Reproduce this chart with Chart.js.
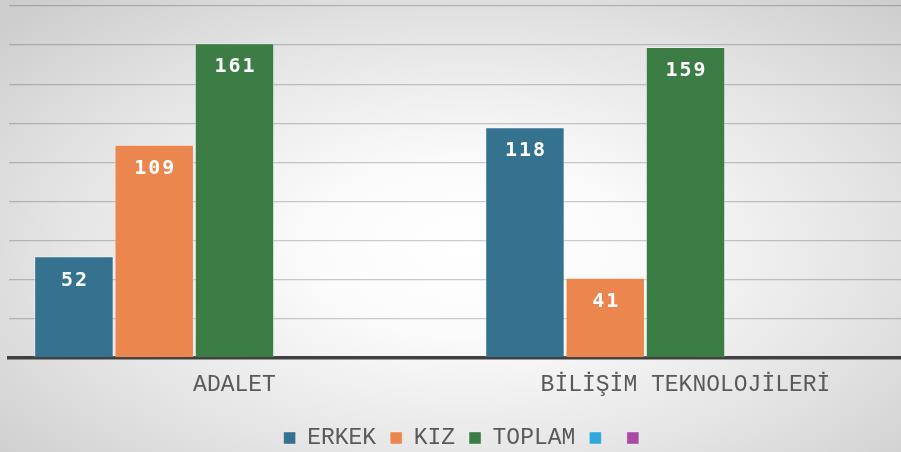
<!DOCTYPE html>
<html>
<head>
    <meta charset="UTF-8">
    <title>Bölüm Öğrenci Sayıları</title>
    <script src="https://cdn.jsdelivr.net/npm/chart.js@4.4.1/dist/chart.umd.min.js"></script>
    <style>
        html, body { margin: 0; padding: 0; overflow: hidden; }
        body {
            width: 901px; height: 452px;
            background: radial-gradient(ellipse 70% 75% at 52% 55%, #ffffff 0%, #fbfbfb 25%, #e4e4e4 65%, #cdcdcd 100%);
        }
        canvas { display: block; }
    </style>
</head>
<body>
<canvas id="bolumChart" width="912" height="452"></canvas>

<script>
    // Bölümler ve seriler
    var bolumler = ['ADALET', 'BİLİŞİM TEKNOLOJİLERİ'];
    var erkek = [52, 118];
    var kiz = [109, 41];
    var toplam = [161, 159];
    var seri4 = [null, null];
    var seri5 = [null, null];
    var yTicks = [0, 20, 40, 60, 80, 100, 120, 140, 160, 180];

    var monoFont = '"Courier New", "Liberation Mono", monospace';

    // Çubukların içine değer yazan eklenti
    var degerEtiketleri = {
        id: 'degerEtiketleri',
        afterDraw: function(chart) {
            var ctx = chart.ctx;
            ctx.save();
            ctx.fillStyle = '#ffffff';
            ctx.font = 'bold 20px "DejaVu Sans Mono", monospace';
            ctx.textAlign = 'center';
            ctx.textBaseline = 'middle';
            ctx.letterSpacing = '2px';
            chart.data.datasets.forEach(function(ds, i) {
                var meta = chart.getDatasetMeta(i);
                meta.data.forEach(function(bar, j) {
                    var v = ds.data[j];
                    if (v === null || v === undefined) return;
                    ctx.fillText(String(v), bar.x + 1, bar.y + 24);
                });
            });
            ctx.restore();
        }
    };

    // Lejantı biraz sağa kaydır (son öğeden sonraki boşluğu dengeler)
    var lejantKaydir = {
        id: 'lejantKaydir',
        afterLayout: function(chart) {
            if (!chart.legend) return;
            chart.legend.left += 7;
            chart.legend.right += 7;
        }
    };

    function seri(label, data, renk) {
        return {
            label: label,
            data: data,
            backgroundColor: renk,
            borderColor: 'rgba(255,255,255,0.35)',
            borderWidth: 1,
            barPercentage: 0.99,
            categoryPercentage: 0.89
        };
    }

    var ctx = document.getElementById('bolumChart').getContext('2d');
    var chart = new Chart(ctx, {
        type: 'bar',
        data: {
            labels: bolumler,
            datasets: [
                seri('ERKEK', erkek, '#34728f'),
                seri('KIZ', kiz, '#eb864f'),
                seri('TOPLAM', toplam, '#3b7d45'),
                seri('', seri4, '#2fa9dc'),
                seri('', seri5, '#a94aa3')
            ]
        },
        options: {
            responsive: false,
            animation: false,
            layout: { padding: { left: 9, right: 1, top: 6, bottom: -7.5 } },
            plugins: {
                tooltip: { enabled: false },
                legend: {
                    position: 'bottom',
                    labels: {
                        color: '#595959',
                        font: { family: monoFont, size: 23 },
                        boxWidth: 12,
                        boxHeight: 12,
                        padding: 14
                    }
                }
            },
            scales: {
                x: {
                    z: 1,
                    afterFit: function(scale) { scale.height = 54.5; },
                    grid: { display: false, drawTicks: false },
                    border: { display: true, color: '#404040', width: 3.5 },
                    ticks: {
                        color: '#595959',
                        font: { family: monoFont, size: 23 },
                        padding: 13
                    }
                },
                y: {
                    z: 1,
                    min: 0,
                    max: 180,
                    afterBuildTicks: function(scale) {
                        scale.ticks = yTicks.map(function(v) { return { value: v }; });
                    },
                    ticks: { display: false },
                    border: { display: false },
                    grid: { color: 'rgba(0,0,0,0.2)', lineWidth: 1.3, drawTicks: false }
                }
            }
        },
        plugins: [degerEtiketleri, lejantKaydir]
    });
</script>
</body>
</html>
